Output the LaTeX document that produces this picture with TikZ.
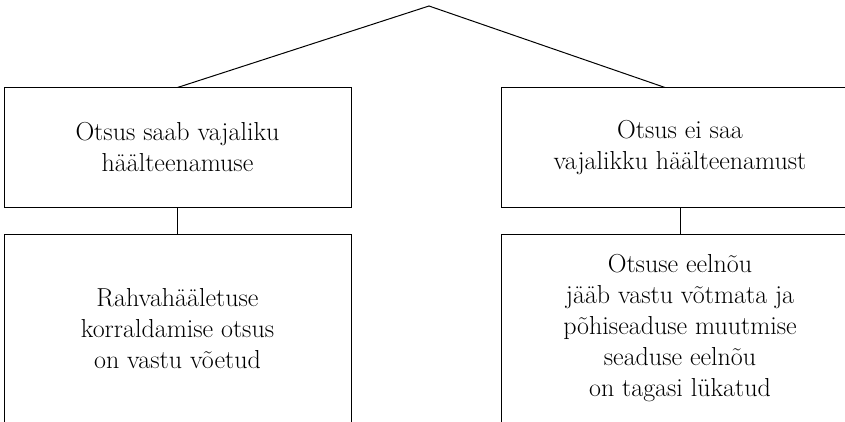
\documentclass[tikz,border=0pt]{standalone}
\usepackage{fontspec}
\usetikzlibrary{calc}
\begin{document}
\begin{tikzpicture}[x=1pt,y=-1pt,
  box/.style={draw=black,line width=1pt,rectangle,inner sep=0pt,align=center,
    font=\fontsize{26}{31}\selectfont},
  topbox/.style={box,minimum height=119pt},
  lowbox/.style={box,minimum height=189pt},
  conn/.style={draw=black,line width=1pt}]
\useasboundingbox (0,0) rectangle (845,422);
\coordinate (apex) at (429,6);
\node[topbox,minimum width=347pt] (tl) at (177.5,147.5) {Otsus saab vajaliku\\häälteenamuse};
\node[topbox,minimum width=358pt] (tr) at (680,147.5) {Otsus ei saa\\vajalikku häälteenamust};
\node[lowbox,minimum width=347pt] (bl) at (177.5,328.5) {Rahvahääletuse\\korraldamise otsus\\on vastu võetud};
\node[lowbox,minimum width=358pt] (br) at (680,328.5) {Otsuse eelnõu\\jääb vastu võtmata ja\\põhiseaduse muutmise\\seaduse eelnõu\\on tagasi lükatud};
\draw[conn] (tl.north) -- (apex) -- ([xshift=-15pt]tr.north);
\draw[conn] (tl.south) -- (bl.north);
\draw[conn] (tr.south) -- (br.north);
\end{tikzpicture}
\end{document}
